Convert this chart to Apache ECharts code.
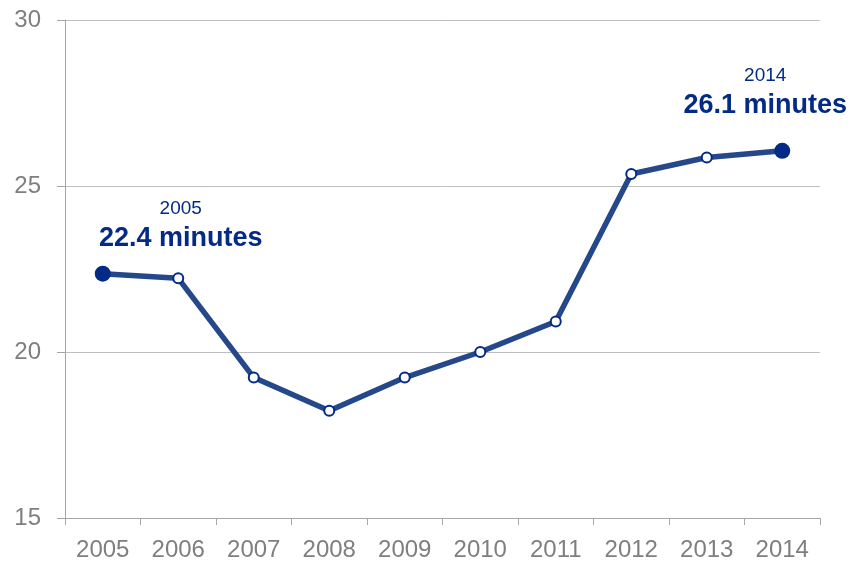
<!DOCTYPE html>
<html>
<head>
<meta charset="utf-8">
<script src="https://cdn.jsdelivr.net/npm/echarts@6/dist/echarts.min.js"></script>
<style>html,body{margin:0;padding:0;background:#fff}#c{width:861px;height:563px}</style>
</head>
<body>
<div id="c"></div>
<script>
var years = ['2005','2006','2007','2008','2009','2010','2011','2012','2013','2014'];
var minutes = [22.36, 22.22, 19.23, 18.23, 19.23, 20.0, 20.92, 25.36, 25.86, 26.06];
var yTicks = [15, 20, 25, 30];
var startLabel = { year: '2005', text: '22.4 minutes' };
var endLabel = { year: '2014', text: '26.1 minutes' };

var navy = '#032a87';
var lineColor = '#25488b';
var gray = '#7f7f7f';

var rich = {
  y: { fontSize: 19, color: navy, lineHeight: 26, fontFamily: 'Liberation Sans', align: 'center' },
  m: { fontSize: 27, fontWeight: 'bold', color: navy, lineHeight: 34, fontFamily: 'Liberation Sans', align: 'center' }
};

var data = minutes.map(function (v, i) {
  var item = { value: v };
  if (i === 0 || i === minutes.length - 1) {
    var lab = i === 0 ? startLabel : endLabel;
    item.symbolSize = 16;
    item.itemStyle = { color: navy, borderColor: navy, borderWidth: 0 };
    item.label = {
      show: true,
      position: 'top',
      distance: 5,
      offset: i === 0 ? [78, -5] : [-17, -15],
      formatter: '{y|' + lab.year + '}\n{m|' + lab.text + '}',
      rich: rich
    };
  }
  return item;
});

var chart = echarts.init(document.getElementById('c'), null, { renderer: 'canvas' });
chart.setOption({
  animation: false,
  backgroundColor: '#fff',
  grid: { left: 65, right: 41, top: 20, bottom: 45, containLabel: false },
  xAxis: {
    type: 'category',
    data: years,
    boundaryGap: true,
    axisLine: { show: true, lineStyle: { color: '#a6a6a6', width: 1 } },
    axisTick: { show: true, length: 7, lineStyle: { color: '#a6a6a6' } },
    axisLabel: { color: gray, fontSize: 24, fontFamily: 'Liberation Sans', margin: 20, interval: 0 },
    splitLine: { show: false }
  },
  yAxis: {
    type: 'value',
    min: yTicks[0],
    max: yTicks[yTicks.length - 1],
    interval: 5,
    axisLine: { show: true, lineStyle: { color: '#a6a6a6', width: 1 } },
    axisTick: { show: true, length: 8, lineStyle: { color: '#a6a6a6' } },
    axisLabel: { color: gray, fontSize: 24, fontFamily: 'Liberation Sans', margin: 24 },
    splitLine: { show: true, lineStyle: { color: '#bfbfbf', width: 1 } }
  },
  series: [{
    type: 'line',
    data: data,
    symbol: 'circle',
    symbolSize: 10,
    showAllSymbol: true,
    lineStyle: { color: lineColor, width: 5.5 },
    itemStyle: { color: '#ffffff', borderColor: navy, borderWidth: 2 },
    label: { show: false },
    z: 3
  }]
});
</script>
</body>
</html>
